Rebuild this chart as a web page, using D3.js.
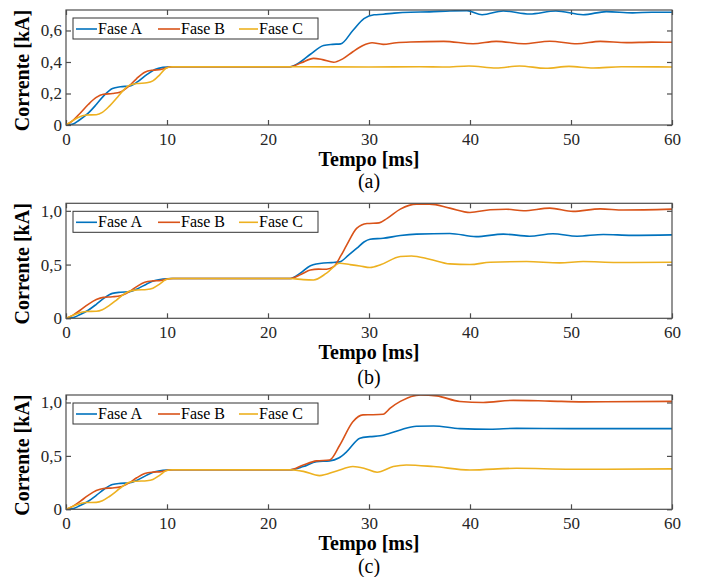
<!DOCTYPE html>
<html>
<head>
<meta charset="utf-8">
<script src="https://cdn.jsdelivr.net/npm/d3@7"></script>
<style>
  body { margin: 0; background: #fff; }
  svg text { font-family: "Liberation Serif", "DejaVu Serif", serif; }
</style>
</head>
<body>
<div id="chart"></div>
<script>
// [tempo ms, corrente kA]
// start-up ramp, the same in the three cases
const rampA = [[0,0],[0.6,0.004],[1.3,0.03],[2.2,0.075],[3.0,0.13],[3.8,0.19],[4.6,0.232],[5.4,0.243],[6.3,0.248],[7.1,0.275],[8.0,0.32],[8.8,0.352],[9.6,0.366],[10.4,0.37],[15,0.37],[22.2,0.37]];
const rampB = [[0,0],[0.7,0.03],[1.4,0.075],[2.2,0.13],[3.0,0.175],[3.7,0.195],[4.6,0.2],[5.4,0.21],[6.2,0.245],[7.0,0.295],[7.8,0.335],[8.6,0.348],[9.4,0.352],[10.2,0.368],[10.6,0.37],[15,0.37],[22.2,0.37]];
const rampC = [[0,0],[0.6,0.025],[1.2,0.048],[2.0,0.063],[3.0,0.065],[3.6,0.08],[4.3,0.12],[5.0,0.17],[5.6,0.215],[6.2,0.25],[7.0,0.263],[8.0,0.268],[8.6,0.28],[9.3,0.32],[9.9,0.36],[10.5,0.37],[15,0.37],[22.2,0.37]];

// (a)
const tailA_a = [[23.2,0.4],[24.2,0.449],[25.5,0.505],[26.4,0.512],[27.2,0.515],[28.4,0.6],[29.5,0.675],[30.5,0.7],[31.4,0.703],[32.5,0.71],[34.1,0.716],[36,0.718],[38,0.724],[39.7,0.726],[41.2,0.7],[43.3,0.724],[45.9,0.705],[48.5,0.724],[51.2,0.7],[53.5,0.72],[56.1,0.712],[58,0.716],[60,0.716]];
const tailB_a = [[23.3,0.395],[24.5,0.423],[25.4,0.415],[26.5,0.398],[27.4,0.42],[28.4,0.465],[29.4,0.505],[30.3,0.522],[31.4,0.512],[32.7,0.522],[34.1,0.527],[37.4,0.531],[40.3,0.516],[42.6,0.531],[45.3,0.516],[47.9,0.532],[50.6,0.516],[52.9,0.531],[55.5,0.523],[58,0.526],[60,0.525]];
const tailC_a = [[30,0.368],[35,0.37],[37.5,0.368],[39.9,0.375],[42.6,0.362],[44.9,0.375],[47.5,0.36],[49.8,0.372],[52.2,0.362],[55,0.37],[60,0.368]];

// (b)
const tailA_b = [[23.2,0.42],[24.2,0.49],[25.5,0.515],[26.3,0.518],[27.1,0.525],[28.0,0.59],[28.8,0.652],[29.5,0.71],[30.1,0.736],[31.4,0.745],[33.1,0.77],[34.7,0.783],[38,0.789],[40.6,0.76],[43.3,0.783],[45.9,0.764],[48.2,0.786],[50.6,0.764],[53.2,0.78],[56,0.772],[60,0.776]];
const tailB_b = [[23.3,0.41],[24.2,0.45],[25.0,0.458],[25.8,0.456],[26.5,0.48],[27.2,0.58],[27.8,0.683],[28.8,0.839],[29.8,0.882],[31.0,0.888],[31.8,0.93],[33.1,1.016],[34.7,1.062],[36,1.062],[38,1.025],[40,0.985],[42,1.01],[43.6,1.015],[45.3,1.0],[47.9,1.025],[50.2,0.995],[52.9,1.018],[55.2,1.008],[60,1.016]];
const tailC_b = [[23.5,0.36],[24.5,0.357],[25.8,0.42],[27.1,0.512],[28.1,0.5],[29.1,0.487],[30.1,0.472],[31.2,0.5],[33.1,0.575],[34.2,0.58],[36,0.55],[38,0.506],[40,0.5],[42,0.522],[45.6,0.528],[48.9,0.516],[51.2,0.528],[54.5,0.519],[60,0.522]];

// (c)
const tailA_c = [[23.5,0.4],[24.8,0.446],[26.1,0.453],[27.0,0.48],[27.8,0.54],[29.1,0.665],[30.1,0.68],[31.1,0.688],[32.0,0.71],[33.1,0.743],[34.7,0.778],[36.4,0.78],[39,0.755],[42,0.75],[44.6,0.758],[50,0.755],[60,0.755]];
const tailB_c = [[23.5,0.415],[24.8,0.453],[26.1,0.462],[27.1,0.6],[28.4,0.82],[29.4,0.884],[30.4,0.885],[31.4,0.89],[32.1,0.947],[33.1,1.01],[35.1,1.071],[36.7,1.062],[39,1.009],[41.3,1.0],[44.3,1.02],[47.9,1.013],[51.2,1.006],[60,1.01]];
const tailC_c = [[23.5,0.355],[25.1,0.315],[26.8,0.359],[28.4,0.40],[29.5,0.385],[30.8,0.347],[32.4,0.40],[33.7,0.415],[36.4,0.40],[40,0.368],[44.6,0.384],[50,0.375],[60,0.378]];

const seriesNames = ['Fase A', 'Fase B', 'Fase C'];
const colors = ['#0072BD', '#D95319', '#EDB120'];
const xTicks = [0, 10, 20, 30, 40, 50, 60];
const yTicksA = [0, 0.2, 0.4, 0.6];
const yTicksBC = [0, 0.5, 1.0];

const panels = [
  { label: '(a)', yMax: 0.73, yTicks: yTicksA, top: 10, bottom: 125, capGap: 63,
    data: [rampA.concat(tailA_a), rampB.concat(tailB_a), rampC.concat(tailC_a)] },
  { label: '(b)', yMax: 1.07, yTicks: yTicksBC, top: 203.3, bottom: 318.3, capGap: 66,
    data: [rampA.concat(tailA_b), rampB.concat(tailB_b), rampC.concat(tailC_b)] },
  { label: '(c)', yMax: 1.07, yTicks: yTicksBC, top: 395, bottom: 509.3, capGap: 63.5,
    data: [rampA.concat(tailA_c), rampB.concat(tailB_c), rampC.concat(tailC_c)] },
];

const FONT = '"Liberation Serif", "DejaVu Serif", serif';
const W = 713, H = 577;
const left = 66, right = 672;

const svg = d3.select('#chart')
  .append('svg')
  .attr('width', W)
  .attr('height', H)
  .attr('font-family', FONT)
  .style('background', '#fff');

const x = d3.scaleLinear().domain([0, 60]).range([left, right]);
const fmt = (d) => d === 0 ? '0' : d3.format('.1f')(d).replace('.', ',');

panels.forEach((p, i) => {
  const y = d3.scaleLinear().domain([0, p.yMax]).range([p.bottom, p.top]);
  const g = svg.append('g');
  const clipId = 'clip' + i;

  g.append('clipPath').attr('id', clipId)
    .append('rect')
    .attr('x', left).attr('y', p.top)
    .attr('width', right - left).attr('height', p.bottom - p.top);

  // axes with inward ticks, MATLAB box style
  g.append('g')
    .attr('transform', `translate(0,${p.bottom})`)
    .call(d3.axisBottom(x).tickValues(xTicks).tickSize(-5).tickPadding(8));
  g.append('g')
    .attr('transform', `translate(0,${p.top})`)
    .call(d3.axisTop(x).tickValues(xTicks).tickSize(-5).tickFormat(''));
  g.append('g')
    .attr('transform', `translate(${left},0)`)
    .call(d3.axisLeft(y).tickValues(p.yTicks).tickSize(-5).tickPadding(4).tickFormat(fmt));
  g.append('g')
    .attr('transform', `translate(${right},0)`)
    .call(d3.axisRight(y).tickValues(p.yTicks).tickSize(-5).tickFormat(''));

  g.selectAll('g').attr('font-family', FONT);
  g.selectAll('.domain').remove();
  g.selectAll('.tick line').attr('stroke', '#4d4d4d').attr('stroke-width', 1.2);
  g.selectAll('.tick text')
    .attr('fill', '#262626')
    .attr('font-size', 17);

  // lines
  const line = d3.line()
    .x((d) => x(d[0]))
    .y((d) => y(d[1]))
    .curve(d3.curveMonotoneX);

  g.append('g')
    .attr('clip-path', `url(#${clipId})`)
    .selectAll('path')
    .data(p.data)
    .join('path')
    .attr('fill', 'none')
    .attr('stroke', (d, k) => colors[k])
    .attr('stroke-width', 1.6)
    .attr('d', line);

  // frame
  g.append('rect')
    .attr('x', left).attr('y', p.top)
    .attr('width', right - left).attr('height', p.bottom - p.top)
    .attr('fill', 'none')
    .attr('stroke', '#4d4d4d')
    .attr('stroke-width', 1.2);

  // legend
  const lg = g.append('g').attr('transform', `translate(73,${p.top + 8})`);
  lg.append('rect')
    .attr('width', 245).attr('height', 21)
    .attr('fill', '#fff')
    .attr('stroke', '#333')
    .attr('stroke-width', 1);
  const items = [[3, 24], [85, 107], [166, 185]];
  seriesNames.forEach((name, k) => {
    lg.append('line')
      .attr('x1', items[k][0]).attr('x2', items[k][1])
      .attr('y1', 11).attr('y2', 11)
      .attr('stroke', colors[k]).attr('stroke-width', 1.6);
    lg.append('text')
      .attr('x', items[k][1] + 1).attr('y', 16)
      .attr('font-size', 16)
      .attr('fill', '#000')
      .text(name);
  });

  // axis labels
  g.append('text')
    .attr('x', (left + right) / 2)
    .attr('y', p.bottom + 41)
    .attr('text-anchor', 'middle')
    .attr('font-size', 20)
    .attr('font-weight', 'bold')
    .text('Tempo [ms]');

  g.append('text')
    .attr('transform', `translate(29,${(p.top + p.bottom) / 2 + 3}) rotate(-90)`)
    .attr('text-anchor', 'middle')
    .attr('font-size', 20)
    .attr('font-weight', 'bold')
    .text('Corrente [kA]');

  g.append('text')
    .attr('x', (left + right) / 2)
    .attr('y', p.bottom + p.capGap)
    .attr('text-anchor', 'middle')
    .attr('font-size', 20)
    .text(p.label);
});
</script>
</body>
</html>
